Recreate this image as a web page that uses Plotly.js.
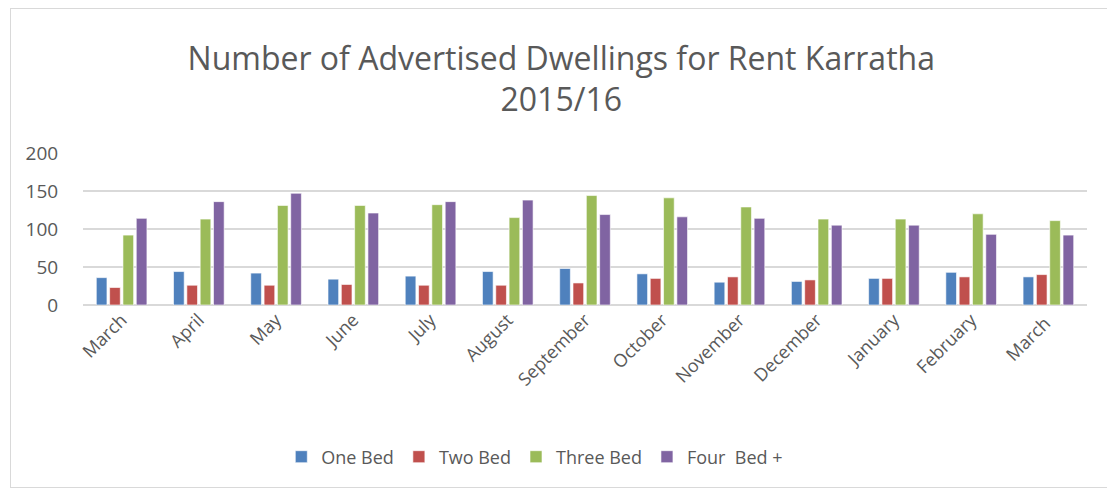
<!DOCTYPE html>
<html>
<head>
<meta charset="utf-8">
<script src="https://cdn.plot.ly/plotly-3.0.1.min.js"></script>
<style>
html,body{margin:0;padding:0;background:#fff;}
#frame{position:absolute;left:10px;top:8px;width:1110px;height:480px;border:1px solid #d9d9d9;box-sizing:border-box;}
#chart{position:absolute;left:0;top:0;width:1107px;height:491px;}
</style>
</head>
<body>
<div id="frame"></div>
<div id="chart"></div>
<script>
var months = ["March","April","May","June","July","August","September","October","November","December","January","February","March "];
var oneBed   = [36, 44, 42, 34, 38, 44, 48, 41, 30, 31, 35, 43, 37];
var twoBed   = [23, 26, 26, 27, 26, 26, 29, 35, 37, 33, 35, 37, 40];
var threeBed = [92, 113, 131, 131, 132, 115, 144, 141, 129, 113, 113, 120, 111];
var fourBed  = [114, 136, 147, 121, 136, 138, 119, 116, 114, 105, 105, 93, 92];
var seriesNames = ["One Bed", "Two Bed", "Three Bed", "Four  Bed +"];
var colors = ["#4f81bd", "#c0504d", "#9bbb59", "#8064a2"];
var data = [oneBed, twoBed, threeBed, fourBed].map(function(v, i){
  return {
    type: "bar", x: months, y: v, name: seriesNames[i],
    marker: {color: colors[i], line: {color: "rgba(255,255,255,0.6)", width: 1}},
    hoverinfo: "x+y+name"
  };
});
var layout = {
  width: 1107, height: 491,
  margin: {l: 83, r: 20, t: 153, b: 186},
  paper_bgcolor: "rgba(0,0,0,0)", plot_bgcolor: "rgba(0,0,0,0)",
  font: {family: "Open Sans, sans-serif", color: "#595959"},
  title: {text: "Number of Advertised Dwellings for Rent Karratha<br>2015/16",
          font: {size: 32, color: "#595959", family: "Open Sans, sans-serif"},
          x: 0.507, xanchor: "center", xref: "container", y: 0.858, yanchor: "middle", yref: "container"},
  barmode: "group", bargap: 0.31, bargroupgap: 0.2,
  xaxis: {tickangle: -45, tickfont: {size: 18, color: "#595959"}, showgrid: false,
          showline: false, ticks: "", automargin: false},
  yaxis: {range: [0, 200], dtick: 50, tickfont: {size: 19, color: "#595959"},
          gridcolor: "#d9d9d9", gridwidth: 1.5, zeroline: true, zerolinecolor: "#d9d9d9", zerolinewidth: 1.5,
          showline: false, ticks: "outside", tickcolor: "rgba(0,0,0,0)", ticklen: 20, automargin: false},
  legend: {orientation: "h", x: 0.45, xanchor: "center", y: -1.0, yanchor: "middle",
           font: {size: 18, color: "#595959"}, itemwidth: 30, traceorder: "normal"},
  showlegend: true
};
Plotly.newPlot("chart", data, layout, {displayModeBar: false, staticPlot: true});
</script>
</body>
</html>
